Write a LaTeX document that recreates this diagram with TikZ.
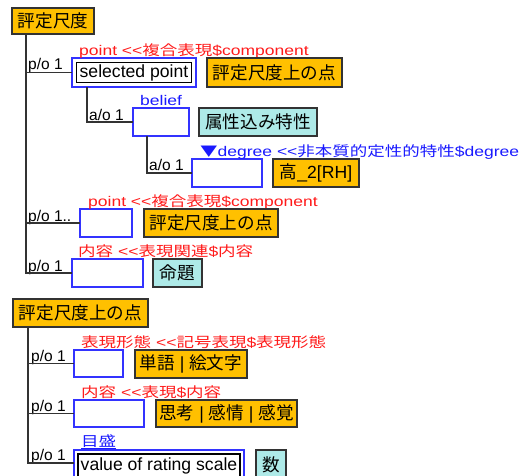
\documentclass[tikz,border=0pt]{standalone}
\usepackage{fontspec}
\setmainfont{Liberation Sans}
\newfontfamily\cjk{Noto Sans CJK JP}
\newfontfamily\llat{Liberation Sans}[FakeStretch=1.25]
\newfontfamily\lcjk{Noto Sans CJK JP}[FakeStretch=1.25]
\definecolor{orng}{HTML}{FFC000}
\definecolor{cyn}{HTML}{AEEAE8}
\definecolor{lblred}{HTML}{FF1A1A}
\definecolor{lblblue}{HTML}{1A1AFF}
\definecolor{bxblue}{HTML}{3333FF}
\definecolor{dk}{HTML}{333333}
\newcommand{\rbox}[7]{\node[#1, anchor=north west, minimum width={(#5-#3)*1pt}, minimum height={(#6-#4)*1pt}] (#2) at (#3,#4) {#7};}
\newcommand{\bxf}{\fontsize{17.6}{20}\selectfont}
\newcommand{\lf}{\fontsize{14}{16}\selectfont}
\tikzset{
  base/.style={rectangle, inner sep=0pt, outer sep=0pt, line width=1.3pt, font=\bxf},
  obox/.style={base, draw=dk, fill=orng},
  cbox/.style={base, draw=dk, fill=cyn},
  bbox/.style={base, draw=bxblue, fill=white},
  ibox/.style={base, draw=black, fill=white},
  conn/.style={draw=dk, line width=1.3pt},
  rl/.style={anchor=base west, inner sep=0pt, text=lblred, font=\lf},
  bl/.style={anchor=base west, inner sep=0pt, text=lblblue, font=\lf},
  po/.style={anchor=base west, inner sep=0pt, text=black, font=\fontsize{15.5}{17}\selectfont},
}
\begin{document}
\begin{tikzpicture}[x=1pt,y=-1pt]
\useasboundingbox (0,0) rectangle (527,475);
% ---------- first tree ----------
\rbox{obox}{h1}{12}{8}{94}{34}{\cjk 評定尺度}
\rbox{bbox}{sp}{72}{58}{196}{87}{}
\node[ibox, minimum width=115pt, minimum height=20pt] (spi) at (sp.center) {selected point};
\node[rl] (l1) at (79,55.5) {\llat point <{}<\lcjk 複合表現\llat \$component};
\rbox{obox}{o1}{207}{58}{342}{87}{\cjk 評定尺度上の点}
\node[po] (p1) at (28,69.5) {p/o 1};
\draw[conn] ([xshift=14pt]h1.south west) |- (sp.west);

\rbox{bbox}{b2}{133}{108}{189}{136}{}
\node[bl] (l2) at (140,105) {\llat belief};
\rbox{cbox}{c2}{199}{108}{317}{136}{\cjk 属性込み特性}
\node[po] (p2) at (89,120.5) {a/o 1};
\draw[conn] ([xshift=15pt]sp.south west) |- (b2.west);

\rbox{bbox}{b3}{192}{159}{262}{187}{}
\node[bl] (l3) at (200,156) {\lcjk ▼\llat degree <{}<\lcjk 非本質的定性的特性\llat \$degree};
\rbox{obox}{o3}{273}{159}{359}{187}{\cjk 高\rmfamily\_2[RH]}
\node[po] (p3) at (149,170.5) {a/o 1};
\draw[conn] ([xshift=14pt]b2.south west) |- (b3.west);

\rbox{bbox}{b4}{80}{209}{132}{237}{}
\node[rl] (l4) at (88,206.5) {\llat point <{}<\lcjk 複合表現\llat \$component};
\rbox{obox}{o4}{144}{209}{278}{237}{\cjk 評定尺度上の点}
\node[po] (p4) at (28,221.5) {p/o 1..};
\draw[conn] ([xshift=14pt]h1.south west) |- (b4.west);

\rbox{bbox}{b5}{72}{259}{143}{287}{}
\node[rl] (l5) at (78,256.5) {\lcjk 内容\llat\ <{}<\lcjk 表現関連\llat \$\lcjk 内容};
\rbox{cbox}{c5}{153}{259}{202}{287}{\cjk 命題}
\node[po] (p5) at (28,271.5) {p/o 1};
\draw[conn] ([xshift=14pt]h1.south west) |- (b5.west);

% ---------- second tree ----------
\rbox{obox}{h2}{13}{299}{148}{327}{\cjk 評定尺度上の点}

\rbox{bbox}{ba}{74}{350}{123}{377}{}
\node[rl] (la) at (81,347.5) {\lcjk 表現形態\llat\ <{}<\lcjk 記号表現\llat \$\lcjk 表現形態};
\rbox{obox}{oa}{135}{350}{247}{378}{\cjk 単語\rmfamily\ |\ \cjk 絵文字}
\node[po] (pa) at (31,361.5) {p/o 1};
\draw[conn] ([xshift=15pt]h2.south west) |- (ba.west);

\rbox{bbox}{bb}{74}{400}{144}{427}{}
\node[rl] (lb) at (81,397.5) {\lcjk 内容\llat\ <{}<\lcjk 表現\llat \$\lcjk 内容};
\rbox{obox}{ob}{156}{400}{297}{427}{\cjk 思考\rmfamily\ |\ \cjk 感情\rmfamily\ |\ \cjk 感覚}
\node[po] (pb) at (31,411.5) {p/o 1};
\draw[conn] ([xshift=15pt]h2.south west) |- (bb.west);

\rbox{bbox}{bc}{74}{450}{244}{479}{}
\node[ibox, minimum width=162pt, minimum height=24pt, anchor=north west] (bci) at (78,454) {value of rating scale};
\node[bl] (lc) at (81,446) {\lcjk\underline{目盛}};
\rbox{cbox}{cc}{256}{450}{286}{479}{\cjk 数}
\node[po] (pc) at (31,460.5) {p/o 1};
\coordinate (cl) at (74,463);
\draw[conn] ([xshift=15pt]h2.south west) |- (cl);
\end{tikzpicture}
\end{document}
